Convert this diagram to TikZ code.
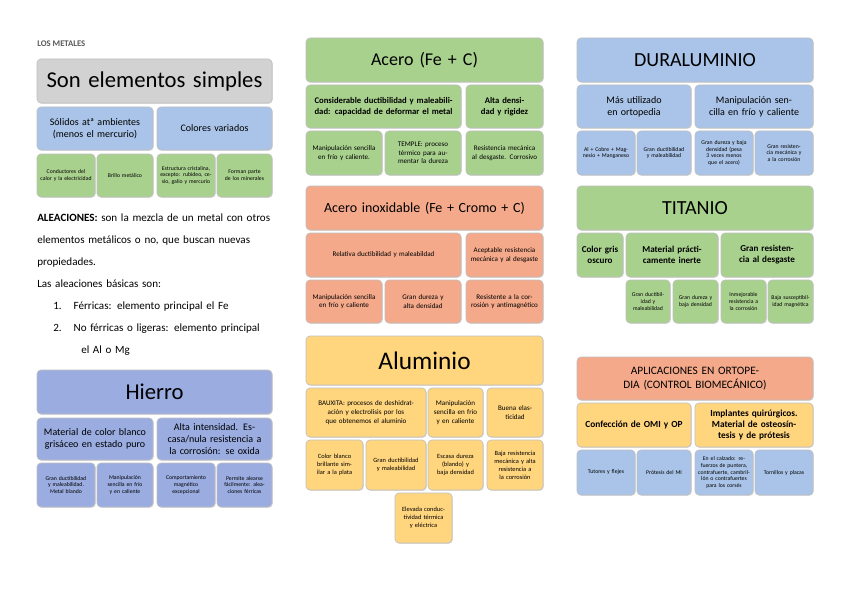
\documentclass[tikz,border=0pt]{standalone}
\usepackage{fontspec}
\setmainfont{Carlito}
\usetikzlibrary{shadows}
\definecolor{cgray}{HTML}{D2D2D2}
\definecolor{cblue}{HTML}{A9C4E8}
\definecolor{cgreen}{HTML}{A9D18E}
\definecolor{csalm}{HTML}{F4A98A}
\definecolor{corng}{HTML}{FFD57E}
\definecolor{cperi}{HTML}{9AACE0}
\newcommand\mkbox[7]{%
 \pgfmathsetmacro\cxx{(#2+#4)/2}\pgfmathsetmacro\cyy{(#3+#5)/2}%
 \pgfmathsetmacro\ww{(#4-#2)*0.75}\pgfmathsetmacro\hh{(#5-#3)*0.75}%
 \pgfmathsetmacro\tw{\ww-4}%
 \node[bx,#6,minimum width=\ww pt,minimum height=\hh pt,text width=\tw pt] (#1) at (\cxx,\cyy) {#7};}
\begin{document}
\begin{tikzpicture}[x=0.75pt,y=-0.75pt,
 bx/.style={draw=black!25,rounded corners=3pt,align=center,inner sep=1pt,line width=0.5pt,
   drop shadow={opacity=0.25,shadow xshift=0.6pt,shadow yshift=-0.6pt}},
 big/.style={font=\fontsize{17}{19}\selectfont},
 mid/.style={font=\fontsize{7.5}{9}\selectfont},
 sml/.style={font=\fontsize{4.3}{5.2}\selectfont}]
\fill[white] (0,0) rectangle (848,599);
\useasboundingbox (0,0) rectangle (848,599);
\node[anchor=west,font=\fontsize{6.5}{8}\selectfont\bfseries,text=black!65,inner sep=0] (lm) at (37,44) {LOS METALES};
% left column
\mkbox{s}{37}{59}{272}{103}{fill=cgray,big}{Son elementos simples}
\mkbox{s1}{37}{107}{153}{150}{fill=cblue,mid}{Sólidos atª ambientes (menos el mercurio)}
\mkbox{s2}{157}{107}{272}{150}{fill=cblue,mid}{Colores variados}
\mkbox{s3}{37}{154}{95}{197}{fill=cgreen,sml}{Conductores del calor y la electricidad}
\mkbox{s4}{97}{154}{153}{197}{fill=cgreen,sml}{Brillo metálico}
\mkbox{s5}{157}{154}{215}{197}{fill=cgreen,sml}{Estructura cristalina, excepto: rubideo, cesio, galio y mercurio}
\mkbox{s6}{217}{154}{272}{197}{fill=cgreen,sml}{Forman parte de los minerales}
\node[anchor=north west,text width=180pt,align=left,inner sep=0,font=\fontsize{8.3}{16.5}\selectfont] (par) at (37,214) {\textbf{ALEACIONES:} son la mezcla de un metal con otros elementos metálicos o no, que buscan nuevas propiedades.\\
Las aleaciones básicas son:\\
\hspace*{12pt}1.\hspace{9pt}Férricas: elemento principal el Fe\\
\hspace*{12pt}2.\hspace{9pt}No férricas o ligeras: elemento principal\\
\hspace*{33pt}el Al o Mg};
\mkbox{h}{37}{370}{272}{414}{fill=cperi,big}{Hierro}
\mkbox{h1}{37}{418}{153}{460}{fill=cperi,mid}{Material de color blanco grisáceo en estado puro}
\mkbox{h2}{157}{418}{272}{460}{fill=cperi,mid}{Alta intensidad. Escasa/nula resistencia a la corrosión: se oxida}
\mkbox{h3}{37}{463}{95}{507}{fill=cperi,sml}{Gran ductibilidad y maleabilidad. Metal blando}
\mkbox{h4}{97}{463}{153}{507}{fill=cperi,sml}{Manipulación sencilla en frío y en caliente}
\mkbox{h5}{157}{463}{215}{507}{fill=cperi,sml}{Comportamiento magnético excepcional}
\mkbox{h6}{217}{463}{272}{507}{fill=cperi,sml}{Permite alearse fácilmente: aleaciones férricas}
% middle column
\mkbox{a}{306}{38}{543}{82}{fill=cgreen,font=\fontsize{13.5}{15}\selectfont}{Acero (Fe + C)}
\mkbox{a1}{306}{85}{461}{128}{fill=cgreen,mid,font=\fontsize{6.5}{8}\selectfont\bfseries}{Considerable ductibilidad y maleabilidad: capacidad de deformar el metal}
\mkbox{a2}{466}{85}{543}{128}{fill=cgreen,font=\fontsize{6.5}{8}\selectfont\bfseries}{Alta densidad y rigidez}
\mkbox{a3}{306}{131}{382}{175}{fill=cgreen,font=\fontsize{5.3}{6.5}\selectfont}{Manipulación sencilla en frío y caliente.}
\mkbox{a4}{385}{131}{461}{175}{fill=cgreen,font=\fontsize{5.3}{6.5}\selectfont}{TEMPLE: proceso térmico para aumentar la dureza}
\mkbox{a5}{466}{131}{543}{175}{fill=cgreen,font=\fontsize{5.3}{6.5}\selectfont}{Resistencia mecánica al desgaste. Corrosivo}
\mkbox{i}{306}{186}{543}{230}{fill=csalm,font=\fontsize{10.5}{12}\selectfont}{Acero inoxidable (Fe + Cromo + C)}
\mkbox{i1}{306}{233}{461}{277}{fill=csalm,font=\fontsize{5.3}{6.5}\selectfont}{Relativa ductibilidad y maleabildad}
\mkbox{i2}{466}{233}{543}{277}{fill=csalm,font=\fontsize{5.3}{6.5}\selectfont}{Aceptable resistencia mecánica y al desgaste}
\mkbox{i3}{306}{280}{382}{323}{fill=csalm,font=\fontsize{5.3}{6.5}\selectfont}{Manipulación sencilla en frío y caliente}
\mkbox{i4}{385}{280}{461}{323}{fill=csalm,font=\fontsize{5.3}{6.5}\selectfont}{Gran dureza y alta densidad}
\mkbox{i5}{466}{280}{543}{323}{fill=csalm,font=\fontsize{5.3}{6.5}\selectfont}{Resistente a la corrosión y antimagnético}
\mkbox{al}{306}{336}{543}{385}{fill=corng,font=\fontsize{19}{21}\selectfont}{Aluminio}
\mkbox{al1}{306}{388}{426}{437}{fill=corng,font=\fontsize{5.3}{6.5}\selectfont}{BAUXITA: procesos de deshidratación y electrolisis por los que obtenemos el aluminio}
\mkbox{al2}{428}{388}{483}{437}{fill=corng,font=\fontsize{5.3}{6.5}\selectfont}{Manipulación sencilla en frío y en caliente}
\mkbox{al3}{487}{388}{543}{437}{fill=corng,font=\fontsize{5.3}{6.5}\selectfont}{Buena elasticidad}
\mkbox{al4}{306}{440}{363}{490}{fill=corng,font=\fontsize{4.8}{6}\selectfont}{Color blanco brillante similar a la plata}
\mkbox{al5}{366}{440}{426}{490}{fill=corng,font=\fontsize{4.8}{6}\selectfont}{Gran ductibilidad y maleabilidad}
\mkbox{al6}{428}{440}{483}{490}{fill=corng,font=\fontsize{4.8}{6}\selectfont}{Escasa dureza (blando) y baja densidad}
\mkbox{al7}{487}{440}{543}{490}{fill=corng,font=\fontsize{4.8}{6}\selectfont}{Baja resistencia mecánica y alta resistencia a la corrosión}
\mkbox{al8}{395}{493}{452}{543}{fill=corng,font=\fontsize{4.8}{6}\selectfont}{Elevada conductividad térmica y eléctrica}
% right column
\mkbox{d}{577}{38}{813}{82}{fill=cblue,font=\fontsize{15}{17}\selectfont}{DURALUMINIO}
\mkbox{d1}{577}{85}{691}{128}{fill=cblue,font=\fontsize{7.5}{9}\selectfont}{Más utilizado en ortopedia}
\mkbox{d2}{695}{85}{813}{128}{fill=cblue,font=\fontsize{7.5}{9}\selectfont}{Manipulación sencilla en frío y caliente}
\mkbox{d3}{577}{131}{635}{175}{fill=cblue,sml}{Al + Cobre + Magnesio + Manganeso}
\mkbox{d4}{637}{131}{691}{175}{fill=cblue,sml}{Gran ductibilidad y maleabilidad}
\mkbox{d5}{695}{131}{753}{175}{fill=cblue,sml}{Gran dureza y baja densidad (pesa 3 veces menos que el acero)}
\mkbox{d6}{755}{131}{813}{175}{fill=cblue,sml}{Gran resistencia mecánica y a la corrosión}
\mkbox{t}{577}{186}{813}{230}{fill=cgreen,font=\fontsize{15}{17}\selectfont}{TITANIO}
\mkbox{t1}{577}{233}{623}{277}{fill=cgreen,font=\fontsize{6.8}{8.2}\selectfont\bfseries}{Color gris oscuro}
\mkbox{t2}{626}{233}{718}{277}{fill=cgreen,font=\fontsize{6.8}{8.2}\selectfont\bfseries}{Material prácticamente inerte}
\mkbox{t3}{721}{233}{813}{277}{fill=cgreen,font=\fontsize{6.8}{8.2}\selectfont\bfseries}{Gran resistencia al desgaste}
\mkbox{t4}{626}{280}{670}{323}{fill=cgreen,sml}{Gran ductibilidad y maleabilidad}
\mkbox{t5}{673}{280}{718}{323}{fill=cgreen,sml}{Gran dureza y baja densidad}
\mkbox{t6}{721}{280}{766}{323}{fill=cgreen,sml}{Inmejorable resistencia a la corrosión}
\mkbox{t7}{768}{280}{813}{323}{fill=cgreen,sml}{Baja susceptibilidad magnética}
\mkbox{o}{577}{357}{813}{400}{fill=csalm,font=\fontsize{8.5}{10}\selectfont}{APLICACIONES EN ORTOPEDIA (CONTROL BIOMECÁNICO)}
\mkbox{o1}{577}{403}{691}{447}{fill=corng,font=\fontsize{7}{8.5}\selectfont\bfseries}{Confección de OMI y OP}
\mkbox{o2}{695}{403}{813}{447}{fill=corng,font=\fontsize{7}{8.5}\selectfont\bfseries}{Implantes quirúrgicos. Material de osteosíntesis y de prótesis}
\mkbox{o3}{577}{450}{635}{495}{fill=cblue,sml}{Tutores y flejes}
\mkbox{o4}{637}{450}{691}{495}{fill=cblue,sml}{Prótesis del MI}
\mkbox{o5}{695}{450}{753}{495}{fill=cblue,sml}{En el calzado: refuerzos de puntera, contrafuerte, cambrillón o contrafuertes para los corsés}
\mkbox{o6}{755}{450}{813}{495}{fill=cblue,sml}{Tornillos y placas}
\end{tikzpicture}
\end{document}
